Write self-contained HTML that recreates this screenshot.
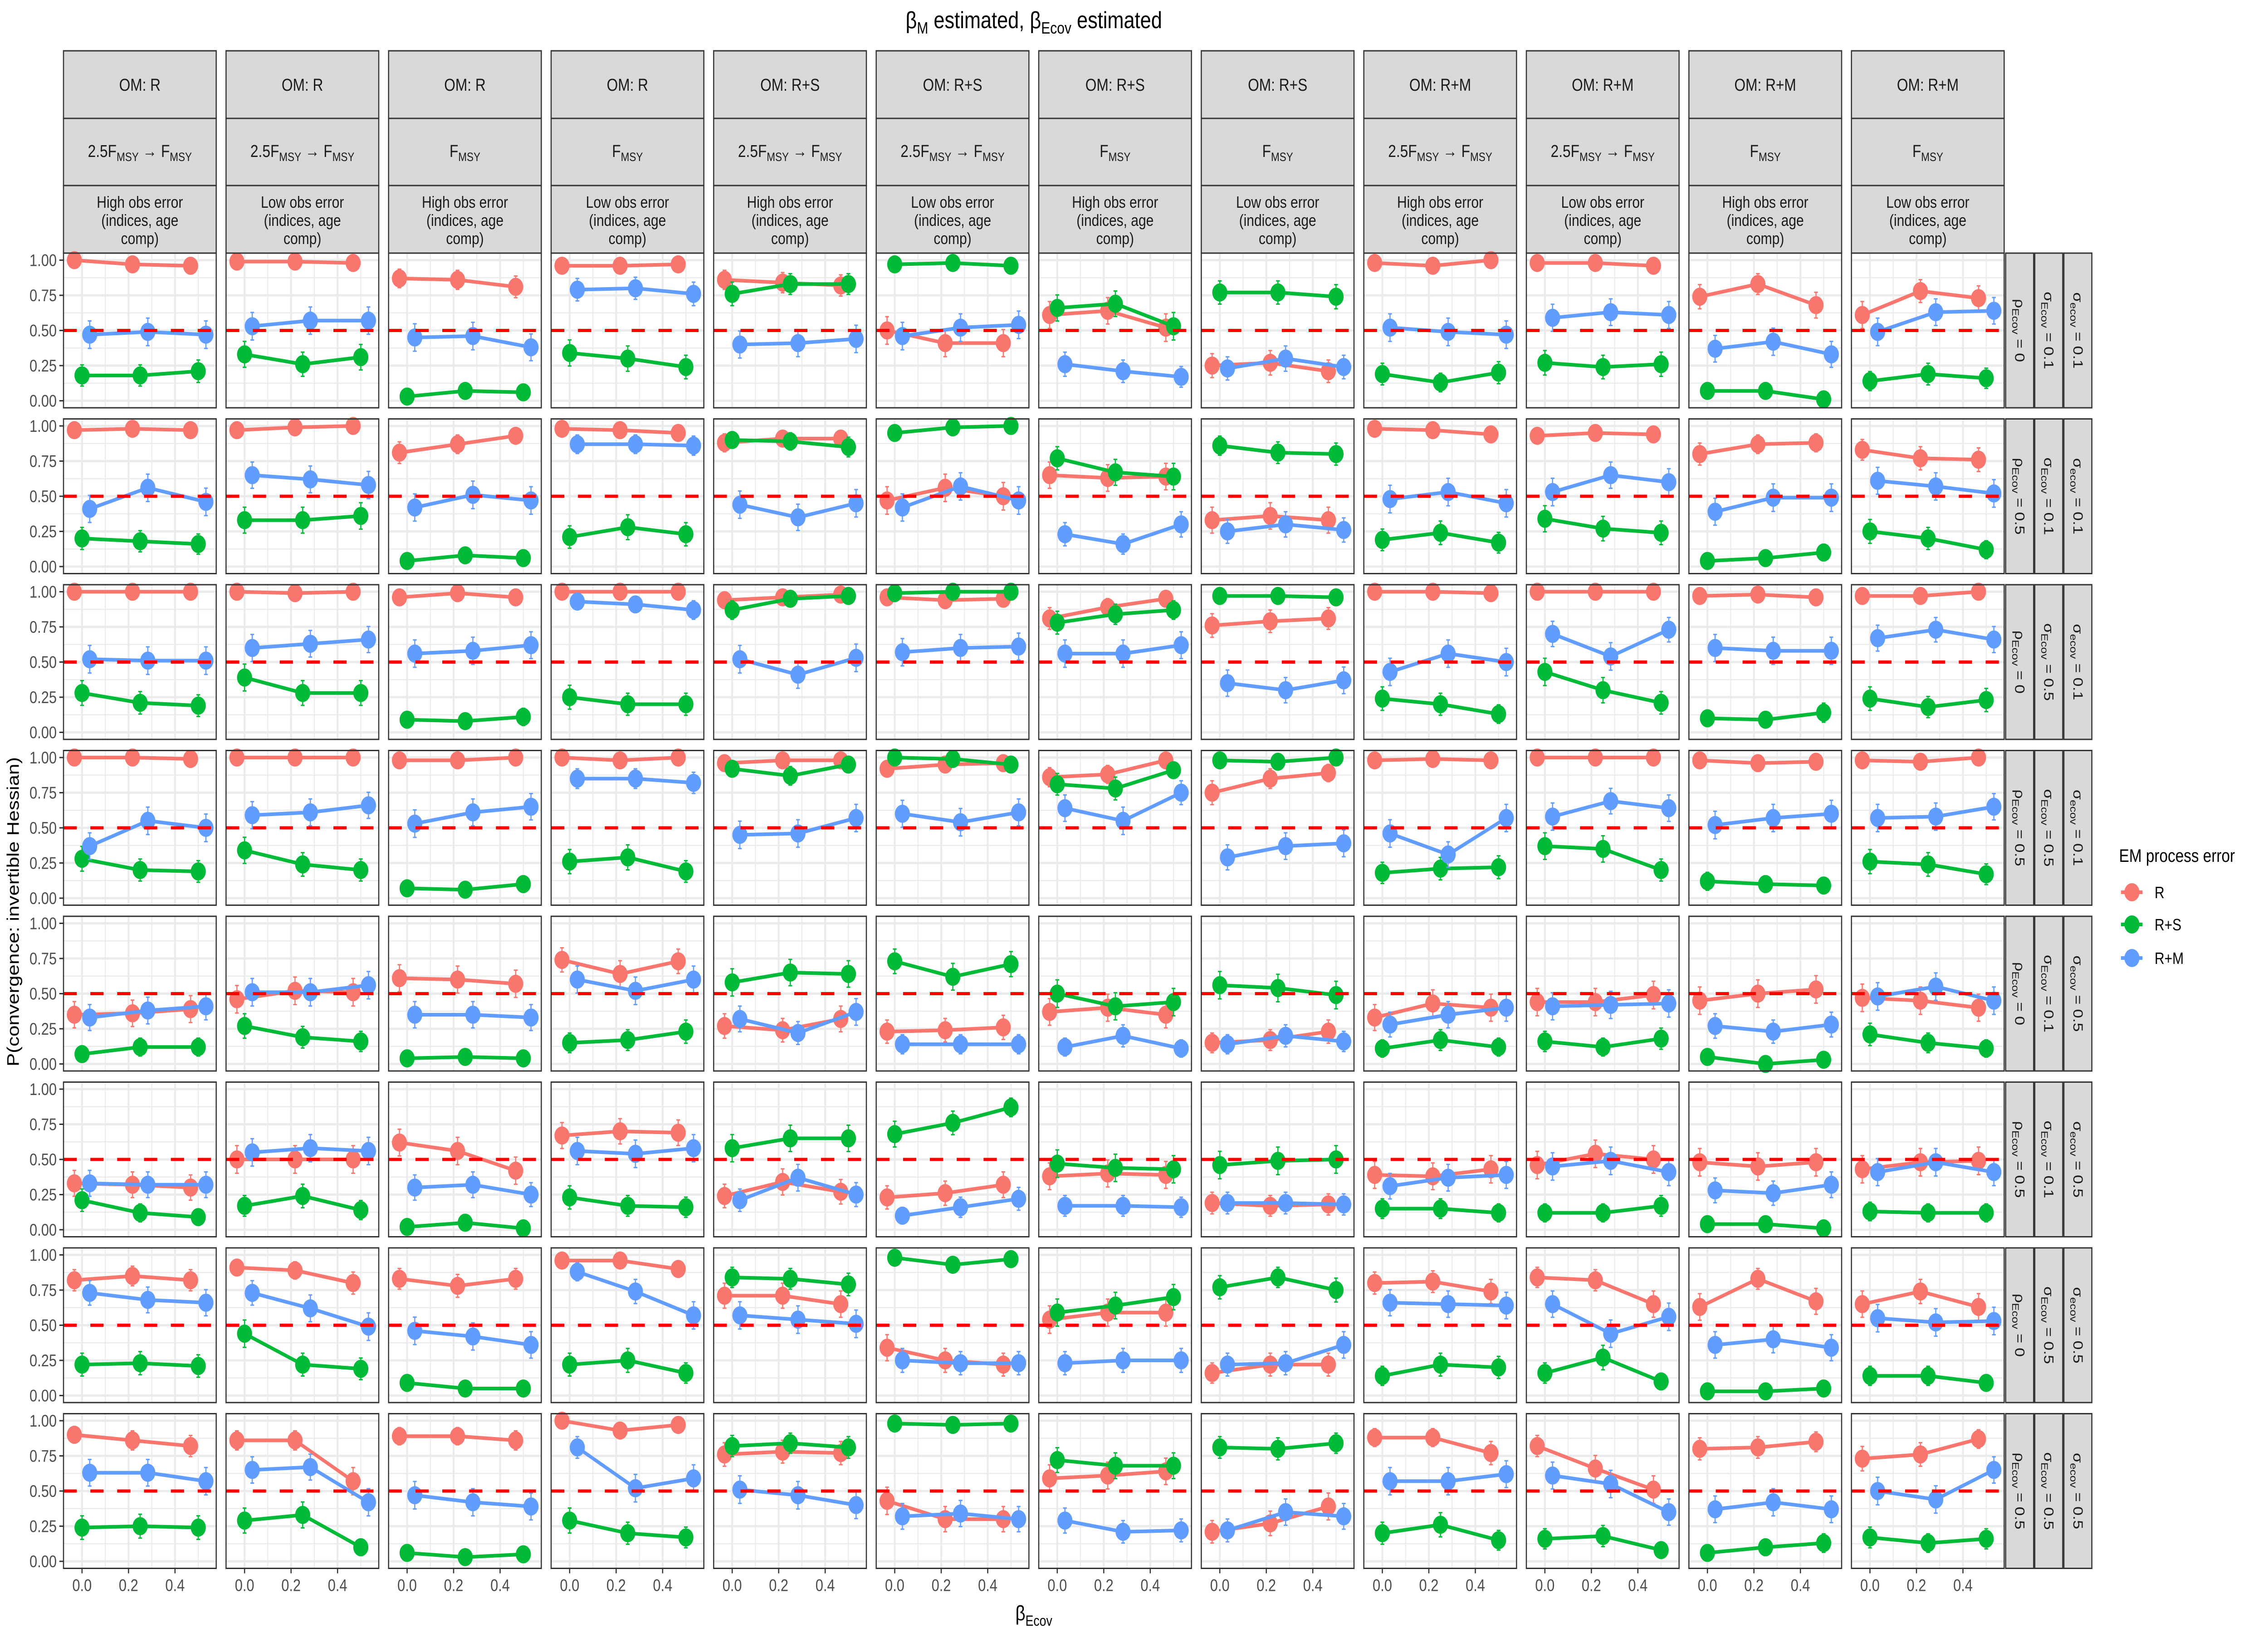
<!DOCTYPE html>
<html><head><meta charset="utf-8">
<style>
html,body{margin:0;padding:0;background:#fff;width:100%;height:100%;overflow:hidden;}
svg{display:block;position:fixed;left:0;top:0;width:100vw;height:100vh;font-family:"Liberation Sans",Arial,sans-serif;}
</style></head>
<body>
<svg id="chart" viewBox="0 0 6000 3600" preserveAspectRatio="none" xmlns="http://www.w3.org/2000/svg">
<rect x="0" y="0" width="6000" height="3600" fill="#fff"/>
<text x="2735" y="62" text-anchor="middle" font-size="52" fill="#000">β<tspan font-size="36" dy="12">M</tspan><tspan dy="-12"> estimated, β</tspan><tspan font-size="36" dy="12">Ecov</tspan><tspan dy="-12"> estimated</tspan></text>
<text transform="translate(50,2010) rotate(-90)" text-anchor="middle" font-size="44" fill="#000">P(convergence: invertible Hessian)</text>
<text x="2735" y="3572" text-anchor="middle" font-size="46" fill="#000">β<tspan font-size="32" dy="12">Ecov</tspan></text>
<g id="panels"></g>
<g>
<text x="5606" y="1900" font-size="40" fill="#000">EM process error</text>
<g><line x1="5611" y1="1967" x2="5668" y2="1967" stroke="#F8766D" stroke-width="8"/><circle cx="5640" cy="1967" r="20" fill="#F8766D"/><text x="5700" y="1980" font-size="36" fill="#000">R</text></g>
<g><line x1="5611" y1="2038" x2="5668" y2="2038" stroke="#00BA38" stroke-width="8"/><circle cx="5640" cy="2038" r="20" fill="#00BA38"/><text x="5700" y="2051" font-size="36" fill="#000">R+S</text></g>
<g><line x1="5611" y1="2112" x2="5668" y2="2112" stroke="#619CFF" stroke-width="8"/><circle cx="5640" cy="2112" r="20" fill="#619CFF"/><text x="5700" y="2125" font-size="36" fill="#000">R+M</text></g>
</g>
</svg>
<script>
const betaEcov = [0, 0.25, 0.5];
const xTicks = [0, 0.2, 0.4];
const xTickLabels = ["0.0", "0.2", "0.4"];
const yTicks = [0, 0.25, 0.5, 0.75, 1];
const yTickLabels = ["0.00", "0.25", "0.50", "0.75", "1.00"];
const omLabels = ["OM: R","OM: R","OM: R","OM: R","OM: R+S","OM: R+S","OM: R+S","OM: R+S","OM: R+M","OM: R+M","OM: R+M","OM: R+M"];
const fLabels = ["ramp","ramp","fmsy","fmsy","ramp","ramp","fmsy","fmsy","ramp","ramp","fmsy","fmsy"];
const obsLabels = ["High","Low","High","Low","High","Low","High","Low","High","Low","High","Low"];
const rhoLabels = ["0","0.5","0","0.5","0","0.5","0","0.5"];
const sigEcovLabels = ["0.1","0.1","0.5","0.5","0.1","0.1","0.5","0.5"];
const sigecovLabels = ["0.1","0.1","0.1","0.1","0.5","0.5","0.5","0.5"];
const seriesNames = ["R","R+S","R+M"];
const seriesColors = ["#F8766D","#00BA38","#619CFF"];
const valsR = [
[[1,.97,.96],[.99,.99,.98],[.87,.86,.81],[.96,.96,.97],[.86,.84,.82],[.50,.41,.41],[.61,.64,.52],[.25,.27,.21],[.98,.96,1],[.98,.98,.96],[.74,.83,.68],[.61,.78,.73]],
[[.97,.98,.97],[.97,.99,1],[.81,.87,.93],[.98,.97,.95],[.88,.91,.91],[.47,.56,.50],[.65,.63,.64],[.33,.36,.33],[.98,.97,.94],[.93,.95,.94],[.80,.87,.88],[.83,.77,.76]],
[[1,1,1],[1,.99,1],[.96,.99,.96],[1,1,1],[.94,.96,.98],[.96,.94,.95],[.81,.89,.95],[.76,.79,.81],[1,1,.99],[1,1,1],[.97,.98,.96],[.97,.97,1]],
[[1,1,.99],[1,1,1],[.98,.98,1],[1,.98,1],[.96,.98,.98],[.92,.95,.96],[.86,.88,.98],[.75,.85,.89],[.98,.99,.98],[1,1,1],[.98,.96,.97],[.98,.97,1]],
[[.35,.36,.39],[.46,.52,.51],[.61,.60,.57],[.74,.64,.73],[.27,.24,.32],[.23,.24,.26],[.37,.40,.35],[.15,.17,.23],[.33,.43,.40],[.44,.44,.49],[.45,.50,.53],[.47,.45,.40]],
[[.33,.32,.30],[.50,.50,.50],[.62,.56,.42],[.67,.70,.69],[.24,.34,.27],[.23,.26,.32],[.38,.40,.39],[.19,.17,.18],[.39,.38,.43],[.46,.54,.50],[.48,.45,.48],[.43,.48,.49]],
[[.82,.85,.82],[.91,.89,.80],[.83,.78,.83],[.96,.96,.90],[.71,.71,.65],[.34,.25,.22],[.54,.59,.59],[.16,.22,.22],[.80,.81,.74],[.84,.82,.65],[.63,.83,.67],[.65,.74,.63]],
[[.90,.86,.82],[.86,.86,.57],[.89,.89,.86],[1,.93,.97],[.76,.78,.77],[.43,.30,.30],[.59,.61,.64],[.21,.27,.39],[.88,.88,.77],[.82,.66,.51],[.80,.81,.85],[.73,.76,.87]]
];
const valsRS = [
[[.18,.18,.21],[.33,.26,.31],[.03,.07,.06],[.34,.30,.24],[.76,.83,.83],[.97,.98,.96],[.66,.69,.53],[.77,.77,.74],[.19,.13,.20],[.27,.24,.26],[.07,.07,.01],[.14,.19,.16]],
[[.20,.18,.16],[.33,.33,.36],[.04,.08,.06],[.21,.28,.23],[.90,.89,.85],[.95,.99,1],[.77,.67,.64],[.86,.81,.80],[.19,.24,.17],[.34,.27,.24],[.04,.06,.10],[.25,.20,.12]],
[[.28,.21,.19],[.39,.28,.28],[.09,.08,.11],[.25,.20,.20],[.87,.95,.97],[.99,1,1],[.78,.84,.87],[.97,.97,.96],[.24,.20,.13],[.43,.30,.21],[.10,.09,.14],[.24,.18,.23]],
[[.28,.20,.19],[.34,.24,.20],[.07,.06,.10],[.26,.29,.19],[.92,.87,.95],[1,.99,.95],[.81,.78,.91],[.98,.97,1],[.18,.21,.22],[.37,.35,.20],[.12,.10,.09],[.26,.24,.17]],
[[.07,.12,.12],[.27,.19,.16],[.04,.05,.04],[.15,.17,.23],[.58,.65,.64],[.73,.62,.71],[.50,.41,.44],[.56,.54,.49],[.11,.17,.12],[.16,.12,.18],[.05,0,.03],[.21,.15,.11]],
[[.21,.12,.09],[.17,.24,.14],[.02,.05,.01],[.23,.17,.16],[.58,.65,.65],[.68,.76,.87],[.47,.44,.43],[.46,.49,.50],[.15,.15,.12],[.12,.12,.17],[.04,.04,.01],[.13,.12,.12]],
[[.22,.23,.21],[.44,.22,.19],[.09,.05,.05],[.22,.25,.16],[.84,.83,.79],[.98,.93,.97],[.59,.64,.70],[.77,.84,.75],[.14,.22,.20],[.16,.27,.10],[.03,.03,.05],[.14,.14,.09]],
[[.24,.25,.24],[.29,.33,.10],[.06,.03,.05],[.29,.20,.17],[.82,.84,.81],[.98,.97,.98],[.72,.68,.68],[.81,.80,.84],[.20,.26,.15],[.16,.18,.08],[.06,.10,.13],[.17,.13,.16]]
];
const valsRM = [
[[.47,.49,.47],[.53,.57,.57],[.45,.46,.38],[.79,.80,.76],[.40,.41,.44],[.46,.52,.54],[.26,.21,.17],[.23,.30,.24],[.52,.49,.47],[.59,.63,.61],[.37,.42,.33],[.49,.63,.64]],
[[.41,.56,.46],[.65,.62,.58],[.42,.51,.47],[.87,.87,.86],[.44,.35,.45],[.42,.57,.47],[.23,.16,.30],[.25,.30,.26],[.48,.53,.45],[.53,.65,.60],[.39,.49,.49],[.61,.57,.52]],
[[.52,.51,.51],[.60,.63,.66],[.56,.58,.62],[.93,.91,.87],[.52,.41,.53],[.57,.60,.61],[.56,.56,.62],[.35,.30,.37],[.43,.56,.50],[.70,.54,.73],[.60,.58,.58],[.67,.73,.66]],
[[.37,.55,.50],[.59,.61,.66],[.53,.61,.65],[.85,.85,.82],[.45,.46,.57],[.60,.54,.61],[.64,.55,.75],[.29,.37,.39],[.46,.31,.57],[.58,.69,.64],[.52,.57,.60],[.57,.58,.65]],
[[.33,.38,.41],[.51,.51,.56],[.35,.35,.33],[.60,.52,.60],[.32,.22,.37],[.14,.14,.14],[.12,.20,.11],[.14,.20,.16],[.28,.35,.40],[.41,.42,.43],[.27,.23,.28],[.48,.55,.45]],
[[.33,.32,.32],[.55,.58,.56],[.30,.32,.25],[.56,.54,.58],[.21,.37,.25],[.10,.16,.22],[.17,.17,.16],[.19,.19,.18],[.31,.37,.39],[.45,.49,.41],[.28,.26,.32],[.41,.48,.41]],
[[.73,.68,.66],[.73,.62,.49],[.46,.42,.36],[.88,.74,.57],[.57,.54,.51],[.25,.23,.23],[.23,.25,.25],[.22,.23,.36],[.66,.65,.64],[.65,.44,.56],[.36,.40,.34],[.55,.52,.53]],
[[.63,.63,.57],[.65,.67,.42],[.47,.42,.39],[.81,.52,.59],[.51,.47,.40],[.32,.34,.30],[.29,.21,.22],[.22,.35,.32],[.57,.57,.62],[.61,.55,.35],[.37,.42,.37],[.50,.44,.65]]
];
const allSeries = [valsR, valsRS, valsRM];
const dodge = [-0.033, 0, 0.033];

const NS = "http://www.w3.org/2000/svg";
const root = document.getElementById("panels");
const PL = 168, PW = 404, PPITCH = 430, PT = 558, PH = 341, RPITCH = 365.5;
function panelX(c){ return PL + c*PPITCH; }
function panelY(r){ return PT + r*RPITCH; }
function xs(c, v){ return panelX(c) + 49 + v*615; }
function ys(r, v){ return panelY(r) + PH - (v + 0.05)*310; }
function mk(tag, attrs, parent){
  const e = document.createElementNS(NS, tag);
  for (const k in attrs) e.setAttribute(k, attrs[k]);
  (parent || root).appendChild(e);
  return e;
}

for (let c = 0; c < 12; c++) {
  const x = panelX(c);
  const g = mk("g", {});
  
  
  const rows = [[112,261],[261,409],[409,558]];
  rows.forEach(function(rr){
    mk("rect", {x:x, y:rr[0], width:PW, height:rr[1]-rr[0], fill:"#d9d9d9", stroke:"#333", "stroke-width":3}, g);
  });
  const t1 = mk("text", {x:x+PW/2, y:200, "text-anchor":"middle", "font-size":38, fill:"#1a1a1a"}, g);
  t1.textContent = omLabels[c];
  const t2 = mk("text", {x:x+PW/2, y:346, "text-anchor":"middle", "font-size":38, fill:"#1a1a1a"}, g);
  if (fLabels[c] === "ramp") {
    t2.innerHTML = '2.5F<tspan font-size="27" dy="9">MSY</tspan><tspan dy="-9"> → F</tspan><tspan font-size="27" dy="9">MSY</tspan>';
  } else {
    t2.innerHTML = 'F<tspan font-size="27" dy="9">MSY</tspan>';
  }
  const lines = [obsLabels[c] + " obs error", "(indices, age", "comp)"];
  lines.forEach(function(s, i){
    const t = mk("text", {x:x+PW/2, y:458 + i*40, "text-anchor":"middle", "font-size":36, fill:"#1a1a1a"}, g);
    t.textContent = s;
  });
}

const stripX = [5306, 5383, 5460];
for (let r = 0; r < 8; r++) {
  const y = panelY(r);
  const g = mk("g", {});
  
  
  const labs = [
    'ρ<tspan font-size="26" dy="8">Ecov</tspan><tspan dy="-8"> = ' + rhoLabels[r] + '</tspan>',
    'σ<tspan font-size="26" dy="8">Ecov</tspan><tspan dy="-8"> = ' + sigEcovLabels[r] + '</tspan>',
    'σ<tspan font-size="26" dy="8">ecov</tspan><tspan dy="-8"> = ' + sigecovLabels[r] + '</tspan>'
  ];
  stripX.forEach(function(sx, i){
    mk("rect", {x:sx, y:y, width:74, height:PH, fill:"#d9d9d9", stroke:"#333", "stroke-width":3}, g);
    const t = mk("text", {transform:"translate(" + (sx+25) + "," + (y+PH/2) + ") rotate(90)", "text-anchor":"middle", "font-size":36, fill:"#1a1a1a"}, g);
    t.innerHTML = labs[i];
  });
}

for (let r = 0; r < 8; r++) {
  yTicks.forEach(function(v, i){
    const yy = ys(r, v);
    const tk = mk("line", {x1:157, x2:168, y1:yy, y2:yy, stroke:"#333", "stroke-width":3});
    
    
    const t = mk("text", {x:150, y:yy+13, "text-anchor":"end", "font-size":37, fill:"#4d4d4d"});
    
    
    t.textContent = yTickLabels[i];
  });
}
for (let c = 0; c < 12; c++) {
  xTicks.forEach(function(v, i){
    const xx = xs(c, v);
    const yb = panelY(7) + PH;
    const tk = mk("line", {x1:xx, x2:xx, y1:yb, y2:yb+11, stroke:"#333", "stroke-width":3});
    
    
    const t = mk("text", {x:xx, y:yb+50, "text-anchor":"middle", "font-size":37, fill:"#4d4d4d"});
    
    
    t.textContent = xTickLabels[i];
  });
}

function ci(p){ return 1.96*Math.sqrt(Math.max(p*(1-p),0)/100); }

for (let r = 0; r < 8; r++) {
  for (let c = 0; c < 12; c++) {
    const px = panelX(c), py = panelY(r);
    const g = mk("g", {});
    
    
    mk("rect", {x:px, y:py, width:PW, height:PH, fill:"#fff"}, g);
    [0.125,0.375,0.625,0.875].forEach(function(v){
      mk("line", {x1:px, x2:px+PW, y1:ys(r,v), y2:ys(r,v), stroke:"#ebebeb", "stroke-width":2.5}, g);
    });
    [0.1,0.3,0.5].forEach(function(v){
      mk("line", {x1:xs(c,v), x2:xs(c,v), y1:py, y2:py+PH, stroke:"#ebebeb", "stroke-width":2.5}, g);
    });
    yTicks.forEach(function(v){
      mk("line", {x1:px, x2:px+PW, y1:ys(r,v), y2:ys(r,v), stroke:"#ebebeb", "stroke-width":5}, g);
    });
    xTicks.forEach(function(v){
      mk("line", {x1:xs(c,v), x2:xs(c,v), y1:py, y2:py+PH, stroke:"#ebebeb", "stroke-width":5}, g);
    });
    allSeries.forEach(function(S, s){
      const vals = S[r][c];
      const col = seriesColors[s];
      const sg = mk("g", {}, g);
      
      
      vals.forEach(function(v, k){
        const x = xs(c, betaEcov[k] + dodge[s]);
        const e = ci(v);
        const lo = Math.max(v - e, 0), hi = Math.min(v + e, 1);
        const eb = mk("g", {stroke:col, "stroke-width":3}, sg);
        
        
        mk("line", {x1:x, x2:x, y1:ys(r,lo), y2:ys(r,hi)}, eb);
        mk("line", {x1:x-5, x2:x+5, y1:ys(r,lo), y2:ys(r,lo)}, eb);
        mk("line", {x1:x-5, x2:x+5, y1:ys(r,hi), y2:ys(r,hi)}, eb);
      });
      const pts = vals.map(function(v, k){ return xs(c, betaEcov[k] + dodge[s]) + "," + ys(r, v); }).join(" ");
      const pl = mk("polyline", {points:pts, fill:"none", stroke:col, "stroke-width":8, "stroke-linejoin":"round"}, sg);
      
      
      vals.forEach(function(v, k){
        const pt = mk("circle", {cx:xs(c, betaEcov[k] + dodge[s]), cy:ys(r, v), r:20, fill:col}, sg);
        
        
      });
    });
    const hl = mk("line", {x1:px, x2:px+PW, y1:ys(r,0.5), y2:ys(r,0.5), stroke:"#ff0000", "stroke-width":7, "stroke-dasharray":"35 36"}, g);
    
    
    mk("rect", {x:px, y:py, width:PW, height:PH, fill:"none", stroke:"#333", "stroke-width":3}, g);
  }
}
</script>
</body></html>
